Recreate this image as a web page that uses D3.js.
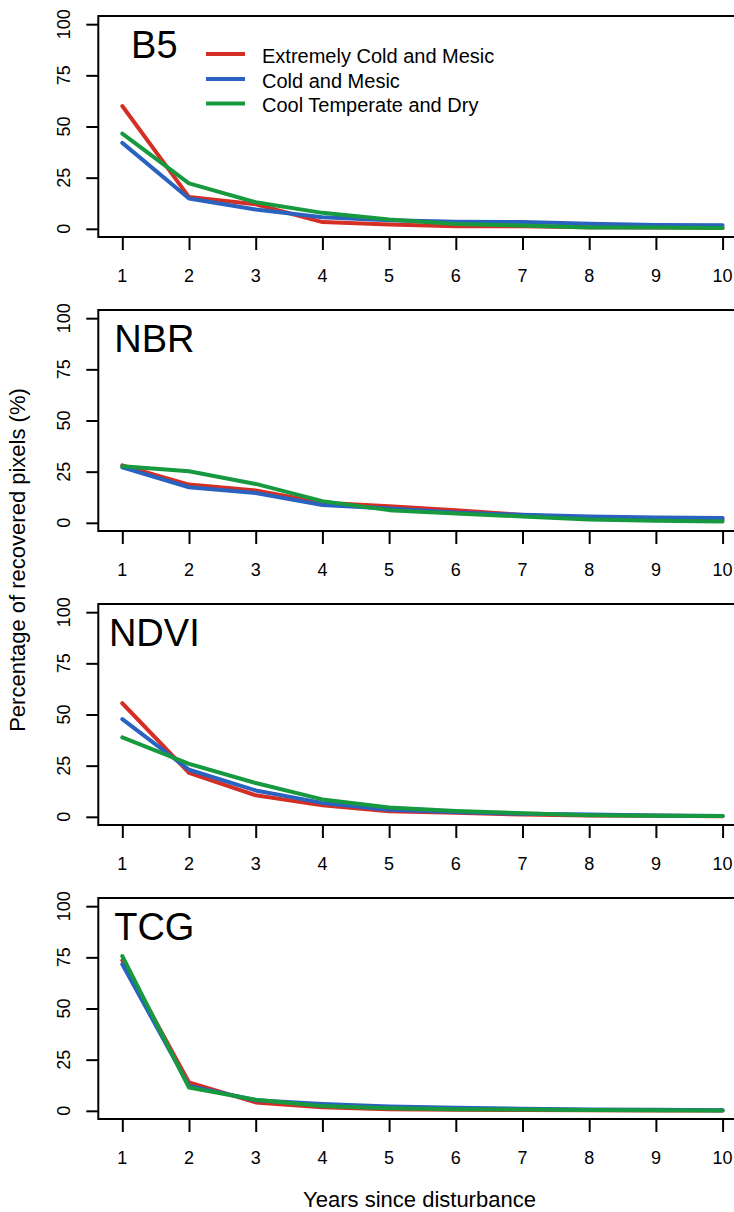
<!DOCTYPE html>
<html>
<head>
<meta charset="utf-8">
<script src="https://cdn.jsdelivr.net/npm/d3@7"></script>
<style>
  body { margin: 0; background: #fff; }
  svg { display: block; font-family: "Liberation Sans", Arial, sans-serif; }
</style>
</head>
<body>
<div id="chart"></div>
<script>
// 年份
const years = [1, 2, 3, 4, 5, 6, 7, 8, 9, 10];
const yTicks = [0, 25, 50, 75, 100];

// 气候区
const zones = ["Extremely Cold and Mesic", "Cold and Mesic", "Cool Temperate and Dry"];
const zoneColors = ["#d42f25", "#2a62c0", "#17993f"];

// 各指数的恢复百分比
const b5ExtCold = [60, 15.5, 12, 3.3, 2.1, 1.3, 1.2, 0.8, 0.6, 0.5];
const b5Cold = [42, 14.8, 9.4, 5.6, 4.2, 3.4, 3.3, 2.5, 1.9, 1.8];
const b5Cool = [46.5, 22.2, 13, 7.8, 4.5, 2.3, 1.6, 0.7, 0.6, 0.4];

const nbrExtCold = [28.1, 18.7, 15.8, 9.8, 8.1, 6.2, 3.8, 2.4, 1.8, 1.6];
const nbrCold = [27.1, 17.4, 14.6, 8.7, 7, 5, 3.9, 3.1, 2.6, 2.3];
const nbrCool = [27.6, 25.2, 19, 10.6, 6.2, 4.5, 3.1, 1.6, 1, 0.7];

const ndviExtCold = [55.5, 21.5, 10.5, 5.6, 2.7, 2, 1.1, 0.6, 0.5, 0.3];
const ndviCold = [47.7, 23, 12.9, 6.8, 3.5, 2.3, 1.5, 1.1, 0.6, 0.4];
const ndviCool = [38.8, 25.9, 16.5, 8.5, 4.5, 2.9, 1.8, 0.8, 0.5, 0.4];

const tcgExtCold = [73.5, 13.9, 4.1, 1.7, 0.8, 0.5, 0.4, 0.3, 0.2, 0.1];
const tcgCold = [71.6, 12.2, 5.2, 3.3, 2.1, 1.5, 1.0, 0.7, 0.5, 0.3];
const tcgCool = [75.6, 11.4, 5.4, 2.4, 1.3, 0.8, 0.6, 0.4, 0.3, 0.2];

const panels = [
  { name: "B5", series: [b5ExtCold, b5Cold, b5Cool], legend: true },
  { name: "NBR", series: [nbrExtCold, nbrCold, nbrCool] },
  { name: "NDVI", series: [ndviExtCold, ndviCold, ndviCool] },
  { name: "TCG", series: [tcgExtCold, tcgCold, tcgCool] },
];

// 尺寸
const width = 734,
  height = 1212;
const panelTop = 16,
  panelStep = 294,
  panelH = 221;

const svg = d3
  .select("#chart")
  .append("svg")
  .attr("width", width)
  .attr("height", height);

// x 比例尺 (R 默认两端各留 4%)
const x = d3.scaleLinear().domain([0.64, 10.36]).range([98.3, 746.6]);

const line = d3
  .line()
  .x((d, i) => x(years[i]))
  .y((d) => d);

panels.forEach((p, pi) => {
  const top = panelTop + pi * panelStep;
  const bottom = top + panelH;
  const y = d3.scaleLinear().domain([-4, 104]).range([bottom, top]);

  const g = svg.append("g");

  // 曲线
  p.series.forEach((vals, si) => {
    g.append("path")
      .attr("d", line(vals.map((v) => y(v))))
      .attr("fill", "none")
      .attr("stroke", zoneColors[si])
      .attr("stroke-width", 4)
      .attr("stroke-linejoin", "round")
      .attr("stroke-linecap", "round");
  });

  // 边框
  g.append("rect")
    .attr("x", x.range()[0])
    .attr("y", top)
    .attr("width", x.range()[1] - x.range()[0])
    .attr("height", panelH)
    .attr("fill", "none")
    .attr("stroke", "#000")
    .attr("stroke-width", 2);

  // y 轴
  const ya = g
    .append("g")
    .attr("transform", `translate(${x.range()[0]},0)`)
    .call(d3.axisLeft(y).tickValues(yTicks).tickSize(12).tickFormat(""));
  ya.select(".domain").remove();
  ya.selectAll("line").attr("stroke-width", 2);
  g.selectAll(".ylab")
    .data(yTicks)
    .enter()
    .append("text")
    .attr("transform", (d) => `translate(69.5,${y(d)}) rotate(-90)`)
    .attr("text-anchor", "middle")
    .style("font-size", "18px")
    .text((d) => d);

  // x 轴
  const xa = g
    .append("g")
    .attr("transform", `translate(0,${bottom})`)
    .call(d3.axisBottom(x).tickValues(years).tickSize(13).tickFormat(""));
  xa.select(".domain").remove();
  xa.selectAll("line").attr("stroke-width", 2);
  g.selectAll(".xlab")
    .data(years)
    .enter()
    .append("text")
    .attr("x", (d) => x(d))
    .attr("y", bottom + 44.5)
    .attr("text-anchor", "middle")
    .style("font-size", "18px")
    .text((d) => d);

  // 面板标签
  g.append("text")
    .attr("x", x(1.48))
    .attr("y", y(90) + 13.6)
    .attr("text-anchor", "middle")
    .style("font-size", "38px")
    .text(p.name);

  // 图例
  if (p.legend) {
    const rows = [54, 79, 103.5];
    zones.forEach((z, i) => {
      g.append("line")
        .attr("x1", 206)
        .attr("x2", 245)
        .attr("y1", rows[i])
        .attr("y2", rows[i])
        .attr("stroke", zoneColors[i])
        .attr("stroke-width", 4);
      g.append("text")
        .attr("x", 262)
        .attr("y", rows[i] + 8.5)
        .style("font-size", "20px")
        .text(z);
    });
  }
});

// 坐标轴标题
svg
  .append("text")
  .attr("transform", "translate(25,560) rotate(-90)")
  .attr("text-anchor", "middle")
  .style("font-size", "22px")
  .text("Percentage of recovered pixels (%)");

svg
  .append("text")
  .attr("x", 419.5)
  .attr("y", 1207)
  .attr("text-anchor", "middle")
  .style("font-size", "22px")
  .text("Years since disturbance");
</script>
</body>
</html>
